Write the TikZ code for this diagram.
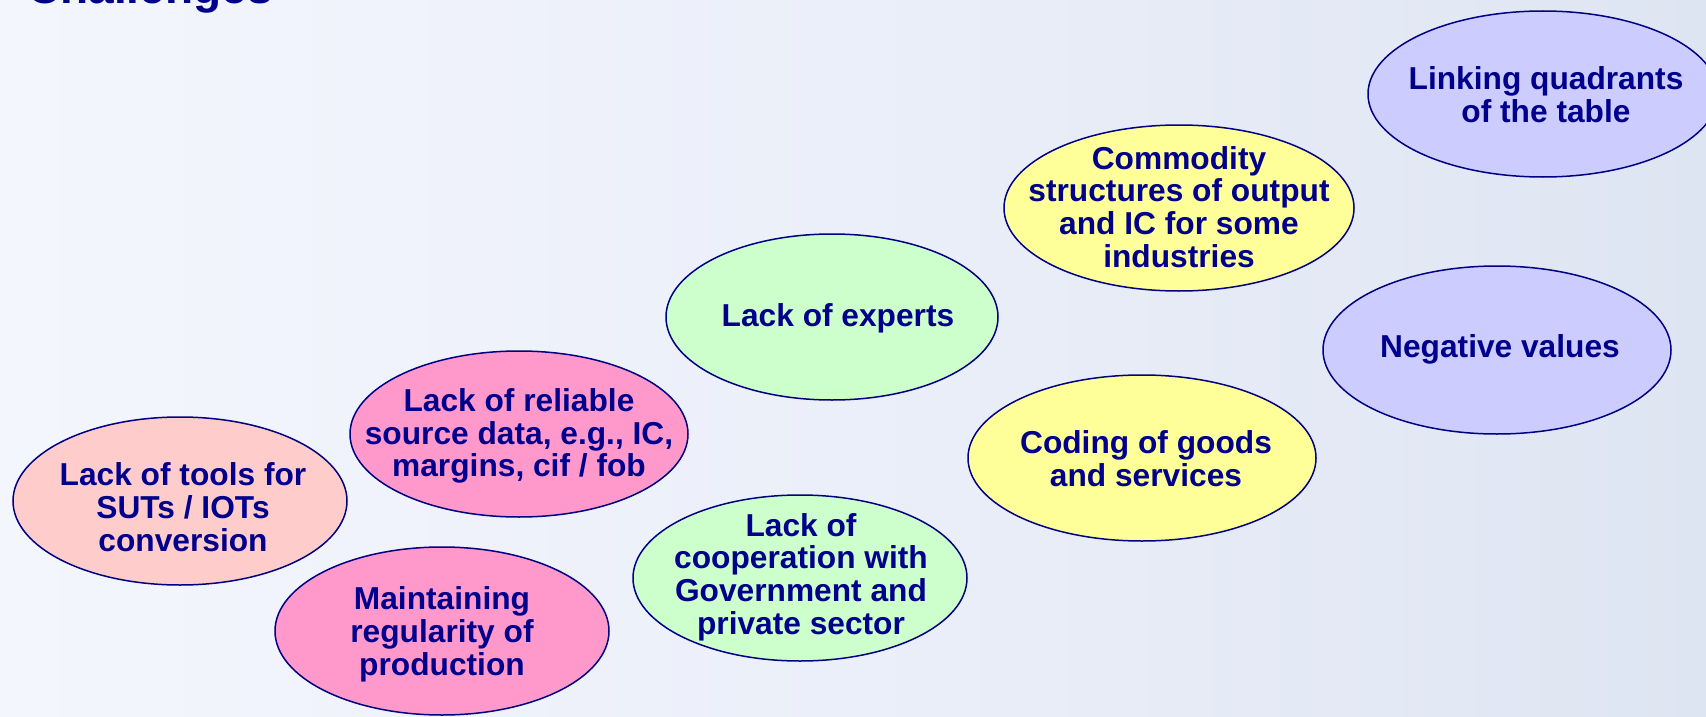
\documentclass[tikz,border=0pt]{standalone}
\usepackage{fontspec}
\setmainfont{Liberation Sans}
\usetikzlibrary{shapes.geometric}
\definecolor{navytext}{RGB}{0,0,140}
\definecolor{navyline}{RGB}{0,0,130}
\definecolor{fillsalmon}{RGB}{255,204,204}
\definecolor{fillpink}{RGB}{255,153,204}
\definecolor{fillgreen}{RGB}{204,255,204}
\definecolor{fillyellow}{RGB}{255,255,153}
\definecolor{filllav}{RGB}{204,204,255}
\definecolor{bgleft}{RGB}{244,246,253}
\definecolor{bgmid}{RGB}{235,239,249}
\definecolor{bgright}{RGB}{222,229,242}
\begin{document}
\begin{tikzpicture}[x=1pt,y=-1pt,
  bubble/.style={ellipse, draw=navyline, line width=1.5pt, inner sep=0pt},
  lbl/.style={align=center, text=navytext, inner sep=0pt,
    font=\fontsize{31.7}{32.8}\selectfont\bfseries}]
\useasboundingbox (0,0) rectangle (1706,717);
\shade[left color=bgleft, right color=bgright, middle color=bgmid] (0,0) rectangle (1706,717);
\begin{scope}
\clip (0,0) rectangle (1706,717);
\node[anchor=base west, text=navytext, inner sep=0pt,
  font=\fontsize{46}{46}\selectfont\bfseries] (title) at (27,4) {Challenges};
% ellipses
\node[bubble, fill=fillsalmon, minimum width=334pt, minimum height=168pt] (e1) at (180,501) {};
\node[bubble, fill=fillpink,   minimum width=338pt, minimum height=166pt] (e2) at (519,434) {};
\node[bubble, fill=fillpink,   minimum width=334pt, minimum height=168pt] (e3) at (442,631) {};
\node[bubble, fill=fillgreen,  minimum width=332pt, minimum height=166pt] (e4) at (832,317) {};
\node[bubble, fill=fillgreen,  minimum width=334pt, minimum height=166pt] (e5) at (800,578) {};
\node[bubble, fill=fillyellow, minimum width=350pt, minimum height=166pt] (e6) at (1179,208) {};
\node[bubble, fill=fillyellow, minimum width=348pt, minimum height=166pt] (e7) at (1142,458) {};
\node[bubble, fill=filllav,    minimum width=350pt, minimum height=166pt] (e8) at (1543,94) {};
\node[bubble, fill=filllav,    minimum width=348pt, minimum height=168pt] (e9) at (1497,350) {};
% labels
\node[lbl] (t1) at (183,507) {Lack of tools for\\SUTs / IOTs\\conversion};
\node[lbl] (t2) at (519,436) {Lack of reliable\\source data, e.g., IC,\\margins, cif / fob};
\node[lbl] (t3) at (442,634) {Maintaining\\regularity of\\production};
\node[lbl] (t4) at (838,318) {Lack of experts};
\node[lbl] (t5) at (801,577) {Lack of\\cooperation with\\Government and\\private sector};
\node[lbl] (t6) at (1179,207) {Commodity\\structures of output\\and IC for some\\industries};
\node[lbl] (t7) at (1146,459) {Coding of goods\\and services};
\node[lbl] (t8) at (1546,95) {Linking quadrants\\of the table};
\node[lbl] (t9) at (1500,349) {Negative values};
\end{scope}
\end{tikzpicture}
\end{document}
